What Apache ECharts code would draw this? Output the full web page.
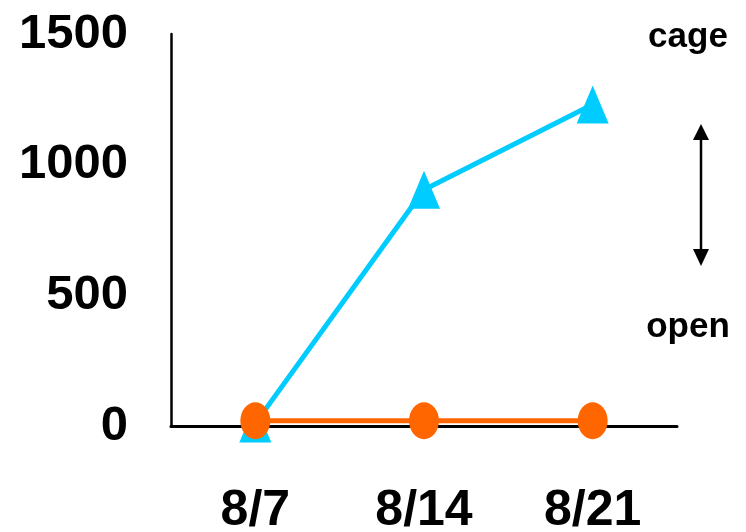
<!DOCTYPE html>
<html>
<head>
<meta charset="utf-8">
<script src="https://cdn.jsdelivr.net/npm/echarts@6/dist/echarts.min.js"></script>
<style>
html,body{margin:0;padding:0;background:#fff;}
#main{width:746px;height:532px;}
</style>
</head>
<body>
<div id="main"></div>
<script>
const categories = ['8/7', '8/14', '8/21'];
const cageValues = [10, 904, 1230];
const openValues = [20, 20, 20];
const yTicks = [0, 500, 1000, 1500];
const annotations = ['cage', 'open'];

const labelFont = "'Liberation Sans', Arial, sans-serif";
const chart = echarts.init(document.getElementById('main'));
chart.setOption({
  backgroundColor: '#ffffff',
  animation: false,
  grid: { left: 171, right: 69, top: 34, bottom: 106, containLabel: false, outerBoundsMode: 'none' },
  xAxis: {
    type: 'category',
    data: categories,
    boundaryGap: true,
    axisLine: { show: true, lineStyle: { color: '#000', width: 3 } },
    axisTick: { show: false },
    axisLabel: { color: '#000', fontSize: 50, fontWeight: 'bold', fontFamily: labelFont, margin: 60 },
    splitLine: { show: false }
  },
  yAxis: {
    type: 'value',
    min: yTicks[0],
    max: yTicks[yTicks.length - 1],
    interval: yTicks[1] - yTicks[0],
    axisLine: { show: true, lineStyle: { color: '#000', width: 2.5 } },
    axisTick: { show: false },
    axisLabel: { color: '#000', fontSize: 49, fontWeight: 'bold', fontFamily: labelFont, margin: 43, padding: [4, 0, 0, 0], formatter: function (v) { return String(v); } },
    splitLine: { show: false }
  },
  series: [
    {
      name: annotations[0],
      type: 'line',
      data: cageValues,
      symbol: 'triangle',
      symbolSize: [32, 38],
      lineStyle: { color: '#00CCFF', width: 5 },
      itemStyle: { color: '#00CCFF' },
      z: 2
    },
    {
      name: annotations[1],
      type: 'line',
      data: openValues,
      symbol: 'circle',
      symbolSize: [30, 37],
      lineStyle: { color: '#FF6600', width: 5 },
      itemStyle: { color: '#FF6600' },
      z: 3
    }
  ],
  graphic: [
    { type: 'text', style: { text: annotations[0], x: 688, y: 37, align: 'center', verticalAlign: 'middle', fontSize: 35, fontWeight: 'bold', fontFamily: "'Liberation Sans', Arial, sans-serif", fill: '#000' } },
    { type: 'text', style: { text: annotations[1], x: 688, y: 327, align: 'center', verticalAlign: 'middle', fontSize: 35, fontWeight: 'bold', fontFamily: "'Liberation Sans', Arial, sans-serif", fill: '#000' } },
    { type: 'line', shape: { x1: 701, y1: 136, x2: 701, y2: 254 }, style: { stroke: '#000', lineWidth: 2.5 } },
    { type: 'polygon', shape: { points: [[701, 124], [693, 140], [709, 140]] }, style: { fill: '#000' } },
    { type: 'polygon', shape: { points: [[701, 266], [693, 249], [709, 249]] }, style: { fill: '#000' } }
  ]
});
</script>
</body>
</html>
